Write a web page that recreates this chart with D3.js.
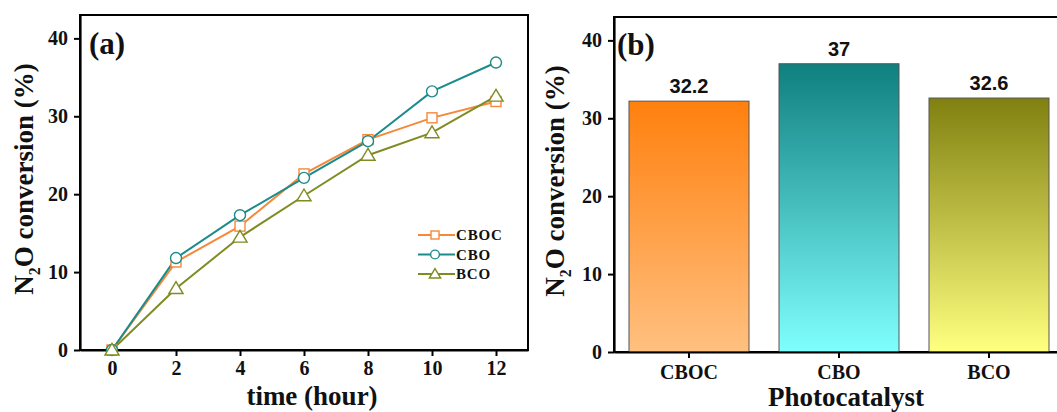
<!DOCTYPE html>
<html>
<head>
<meta charset="utf-8">
<script src="https://cdn.jsdelivr.net/npm/d3@7"></script>
<style>
  body { margin: 0; background: #fff; }
  text { font-weight: bold; }
</style>
</head>
<body>
<div id="canvas"></div>
<script>
// time series (panel a)
var hours = [0, 2, 4, 6, 8, 10, 12];
var cbocValues = [0, 11.3, 15.9, 22.6, 27.0, 29.8, 31.9];
var cboValues = [0, 11.8, 17.3, 22.1, 26.8, 33.2, 36.9];
var bcoValues = [0, 7.9, 14.5, 19.8, 25.0, 27.9, 32.6];
var xTicks = [0, 2, 4, 6, 8, 10, 12];
var yTicks = [0, 10, 20, 30, 40];

// bars (panel b)
var catalysts = ["CBOC", "CBO", "BCO"];
var finalConversion = [32.2, 37, 32.6];
var barLabels = ["32.2", "37", "32.6"];

var series = [
    {name: "CBOC", values: cbocValues, color: "#f5883a", shape: "square"},
    {name: "CBO", values: cboValues, color: "#1b8b8b", shape: "circle"},
    {name: "BCO", values: bcoValues, color: "#7f8c22", shape: "triangle"}
];
var barColors = [
    {top: "#ff800e", bottom: "#ffc080"},
    {top: "#0f7f7f", bottom: "#80ffff"},
    {top: "#808010", bottom: "#ffff80"}
];

var serif = "'Liberation Serif', 'Times New Roman', serif";
var svg = d3.select("#canvas").append("svg").attr("width", 1057).attr("height", 412)
    .style("font-family", serif);

var styleAxis = function(g) {
    g.select(".domain").attr("stroke", "#000").attr("stroke-width", 2.2);
    g.selectAll(".tick line").attr("stroke", "#000").attr("stroke-width", 2);
    g.selectAll(".tick text").style("font-family", serif).style("font-weight", "bold")
        .style("font-size", "20px").attr("fill", "#111");
};

var yTitle = function(x, y) {
    var t = svg.append("text")
        .attr("transform", "translate(" + x + "," + y + ") rotate(-90)")
        .attr("text-anchor", "middle")
        .style("font-size", "27px")
        .attr("fill", "#111");
    t.append("tspan").text("N");
    t.append("tspan").text("2").style("font-size", "16px").attr("dy", 7);
    t.append("tspan").text("O conversion (%)").attr("dy", -7);
};

// ---------- panel (a)
var xA = d3.scaleLinear().domain([-1, 13]).range([80, 528]);
var yA = d3.scaleLinear().domain([0, 43]).range([350, 15]);

svg.append("rect").attr("x", 80).attr("y", 15).attr("width", 448).attr("height", 335)
    .attr("fill", "none").attr("stroke", "#000").attr("stroke-width", 2);

svg.append("g").attr("transform", "translate(0,350)")
    .call(d3.axisBottom(xA).tickValues(xTicks).tickSize(6).tickSizeOuter(0).tickPadding(5))
    .call(styleAxis);
svg.append("g").attr("transform", "translate(80,0)")
    .call(d3.axisLeft(yA).tickValues(yTicks).tickSize(6).tickSizeOuter(0).tickPadding(6))
    .call(styleAxis);

var line = d3.line().x(function(d, i) { return xA(hours[i]); }).y(function(d) { return yA(d); });

var drawMarker = function(g, shape, x, y, size, color) {
    if (shape === "square") {
        g.append("rect").attr("x", x - size).attr("y", y - size).attr("width", size * 2).attr("height", size * 2)
            .attr("fill", "#fff").attr("stroke", color).attr("stroke-width", 1.4);
    } else if (shape === "circle") {
        g.append("circle").attr("cx", x).attr("cy", y).attr("r", size * 1.1)
            .attr("fill", "#fff").attr("stroke", color).attr("stroke-width", 1.4);
    } else {
        var s = size * 1.35;
        g.append("path").attr("d", "M" + x + "," + (y - s) + "L" + (x + s * 1.05) + "," + (y + s * 0.75) + "L" + (x - s * 1.05) + "," + (y + s * 0.75) + "Z")
            .attr("fill", "#fff").attr("stroke", color).attr("stroke-width", 1.4);
    }
};

series.forEach(function(s) {
    svg.append("path").datum(s.values).attr("d", line)
        .attr("fill", "none").attr("stroke", s.color).attr("stroke-width", 2);
});
series.forEach(function(s) {
    var g = svg.append("g");
    s.values.forEach(function(v, i) {
        drawMarker(g, s.shape, xA(hours[i]), yA(v), 5, s.color);
    });
});

// legend
series.forEach(function(s, i) {
    var ly = 235 + i * 19.5;
    svg.append("line").attr("x1", 418).attr("x2", 455).attr("y1", ly).attr("y2", ly)
        .attr("stroke", s.color).attr("stroke-width", 2);
    drawMarker(svg, s.shape, 435, ly, 4, s.color);
    svg.append("text").attr("x", 456).attr("y", ly + 5).style("font-size", "15px")
        .attr("letter-spacing", "0.8px").attr("fill", "#111").text(s.name);
});

svg.append("text").attr("x", 89).attr("y", 54).style("font-size", "31px").attr("fill", "#111").text("(a)");
svg.append("text").attr("x", 312).attr("y", 405).attr("text-anchor", "middle").style("font-size", "27px")
    .attr("fill", "#111").text("time (hour)");
yTitle(33, 179);

// ---------- panel (b)
var xB = d3.scaleBand().domain(catalysts).range([614, 1064]).paddingInner(0.2).paddingOuter(0.1);
var yB = d3.scaleLinear().domain([0, 43]).range([352, 17]);

var defs = svg.append("defs");
barColors.forEach(function(c, i) {
    var grad = defs.append("linearGradient").attr("id", "grad" + i)
        .attr("x1", 0).attr("y1", 0).attr("x2", 0).attr("y2", 1);
    grad.append("stop").attr("offset", "0%").attr("stop-color", c.top);
    grad.append("stop").attr("offset", "100%").attr("stop-color", c.bottom);
});

svg.append("rect").attr("x", 614).attr("y", 17).attr("width", 450).attr("height", 335)
    .attr("fill", "none").attr("stroke", "#000").attr("stroke-width", 2);

svg.selectAll(".bar").data(finalConversion).enter().append("rect")
    .attr("class", "bar")
    .attr("x", function(d, i) { return xB(catalysts[i]); })
    .attr("y", function(d) { return yB(d); })
    .attr("width", xB.bandwidth())
    .attr("height", function(d) { return yB(0) - yB(d); })
    .attr("fill", function(d, i) { return "url(#grad" + i + ")"; })
    .attr("stroke", "#555").attr("stroke-width", 1);

svg.selectAll(".barlabel").data(finalConversion).enter().append("text")
    .attr("class", "barlabel")
    .attr("x", function(d, i) { return xB(catalysts[i]) + xB.bandwidth() / 2; })
    .attr("y", function(d) { return yB(d) - 8; })
    .attr("text-anchor", "middle")
    .style("font-family", "'Liberation Sans', Arial, sans-serif").style("font-size", "20px").attr("fill", "#111")
    .text(function(d, i) { return barLabels[i]; });

svg.append("g").attr("transform", "translate(0,352)")
    .call(d3.axisBottom(xB).tickSize(6).tickSizeOuter(0).tickPadding(7))
    .call(styleAxis);
svg.append("g").attr("transform", "translate(614,0)")
    .call(d3.axisLeft(yB).tickValues(yTicks).tickSize(6).tickSizeOuter(0).tickPadding(6))
    .call(styleAxis);

svg.append("text").attr("x", 617).attr("y", 55).style("font-size", "31px").attr("fill", "#111").text("(b)");
svg.append("text").attr("x", 846).attr("y", 406).attr("text-anchor", "middle").style("font-size", "27px")
    .attr("fill", "#111").text("Photocatalyst");
yTitle(564, 181);
</script>
</body>
</html>
